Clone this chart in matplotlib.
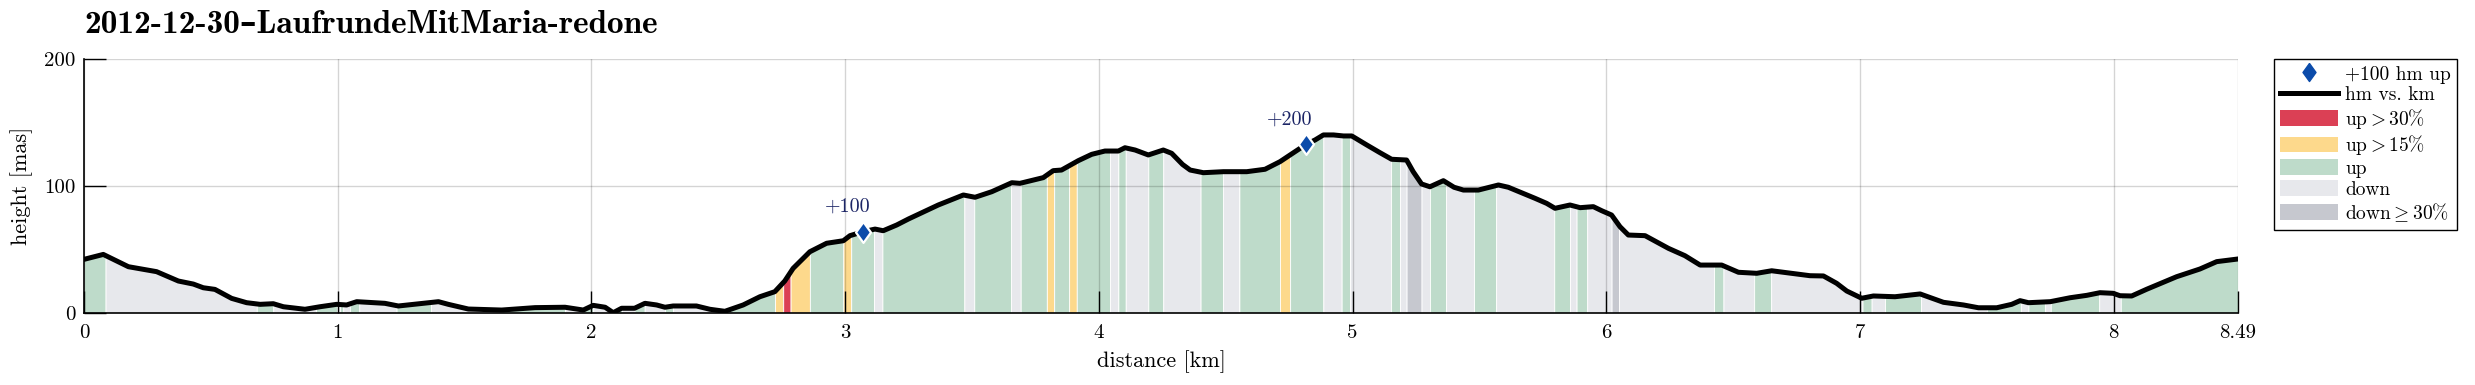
import numpy as np
import matplotlib
matplotlib.use("Agg")
import matplotlib.pyplot as plt
from matplotlib.lines import Line2D
from matplotlib.patches import Patch

# ---------------- data ----------------
dist_km = [0.0, 0.076, 0.175, 0.286, 0.372, 0.431, 0.47, 0.516, 0.582, 0.641, 0.694, 0.746,
           0.786, 0.871, 0.930, 0.996, 1.035, 1.075, 1.186, 1.239, 1.397, 1.436, 1.515, 1.646,
           1.778, 1.896, 1.968, 2.007, 2.054, 2.086, 2.119, 2.17, 2.211, 2.257, 2.29, 2.322,
           2.414, 2.467, 2.526, 2.598, 2.664, 2.723, 2.762, 2.795, 2.861, 2.927, 2.993, 3.019,
           3.072, 3.118, 3.15, 3.203, 3.25, 3.367, 3.466, 3.512, 3.578, 3.657, 3.689, 3.781,
           3.82, 3.853, 3.919, 3.972, 4.024, 4.077, 4.103, 4.143, 4.195, 4.254, 4.287, 4.33,
           4.36, 4.412, 4.491, 4.583, 4.655, 4.714, 4.767, 4.817, 4.852, 4.885, 4.925, 4.964,
           4.997, 5.056, 5.108, 5.154, 5.213, 5.239, 5.272, 5.305, 5.358, 5.40, 5.437, 5.496,
           5.575, 5.614, 5.719, 5.765, 5.798, 5.857, 5.897, 5.949, 5.982, 6.021, 6.054, 6.087,
           6.153, 6.245, 6.31, 6.37, 6.455, 6.521, 6.593, 6.652, 6.751, 6.803, 6.856, 6.908,
           6.948, 7.007, 7.053, 7.138, 7.237, 7.329, 7.408, 7.467, 7.539, 7.598, 7.631, 7.664,
           7.75, 7.828, 7.894, 7.946, 7.998, 8.025, 8.071, 8.13, 8.248, 8.34, 8.406, 8.49]
height_m = [42.1, 46.0, 36.3, 32.4, 25.0, 22.6, 19.7, 18.4, 11.3, 7.9, 6.6, 7.1,
            4.7, 2.7, 4.7, 6.6, 6.1, 8.7, 7.4, 5.3, 8.7, 6.6, 2.9, 2.1,
            4.0, 4.3, 2.1, 5.8, 4.3, 0.0, 3.5, 3.5, 7.4, 6.1, 4.3, 5.3,
            5.3, 2.7, 1.1, 6.1, 12.6, 16.6, 25.0, 35.0, 48.1, 54.8, 56.8, 60.8,
            64.0, 66.0, 64.7, 69.2, 74.0, 85.0, 92.9, 91.1, 95.5, 102.6, 102.1, 106.6,
            112.1, 112.6, 120.0, 125.0, 127.6, 127.6, 130.2, 128.4, 124.5, 128.4, 125.8, 117.0,
            112.6, 110.5, 111.3, 111.3, 113.2, 119.2, 126.3, 132.9, 136.3, 140.3, 140.3, 139.5,
            139.5, 132.4, 126.3, 121.1, 120.5, 111.3, 101.6, 99.4, 104.2, 99.0, 96.8, 96.8,
            100.8, 99.0, 90.3, 86.3, 82.4, 85.0, 82.9, 83.7, 80.5, 77.1, 67.9, 61.3,
            60.8, 50.8, 45.0, 37.6, 37.6, 31.9, 31.1, 33.1, 30.5, 29.2, 29.0, 23.2,
            17.1, 11.4, 13.2, 12.6, 14.8, 8.2, 6.1, 3.9, 3.9, 6.6, 9.5, 7.9,
            8.7, 11.8, 13.7, 15.8, 15.3, 13.4, 13.2, 18.5, 28.4, 34.5, 40.3, 42.4]

seg_start_km = [0, 0.085, 0.681, 0.746, 0.915, 0.997, 1.009, 1.022, 1.048, 1.085, 1.232, 1.368,
                1.646, 1.896, 1.968, 2.007, 2.086, 2.119, 2.17, 2.21, 2.29, 2.322, 2.526, 2.724,
                2.756, 2.785, 2.861, 2.993, 3.024, 3.114, 3.147, 3.47, 3.509, 3.654, 3.692, 3.795,
                3.824, 3.883, 3.913, 4.044, 4.077, 4.106, 4.195, 4.254, 4.401, 4.491, 4.554, 4.714,
                4.754, 4.885, 4.957, 4.99, 5.152, 5.187, 5.213, 5.272, 5.305, 5.368, 5.479, 5.566,
                5.795, 5.857, 5.883, 5.925, 6.021, 6.05, 6.425, 6.462, 6.583, 6.65, 7.01, 7.046,
                7.099, 7.241, 7.50, 7.634, 7.664, 7.73, 7.752, 7.943, 8.028]
seg_class = ['up', 'down', 'up', 'down', 'up', 'down', 'up', 'down', 'up', 'down', 'up', 'down',
             'up', 'down', 'up', 'down', 'up', 'down', 'up', 'down', 'up', 'down', 'up', 'u15',
             'u30', 'u15', 'up', 'u15', 'up', 'down', 'up', 'down', 'up', 'down', 'up', 'u15',
             'up', 'u15', 'up', 'down', 'up', 'down', 'up', 'down', 'up', 'down', 'up', 'u15',
             'up', 'down', 'up', 'down', 'up', 'down', 'd30', 'down', 'up', 'down', 'up', 'down',
             'up', 'down', 'up', 'down', 'd30', 'down', 'up', 'down', 'up', 'down', 'up', 'down',
             'up', 'down', 'up', 'down', 'up', 'down', 'up', 'down', 'up']

marker_km = [3.072, 4.817]
marker_h = [64.0, 132.9]
marker_labels = ['+100', '+200']

xtick_vals = [0, 1, 2, 3, 4, 5, 6, 7, 8, 8.49]
xtick_labels = ['0', '1', '2', '3', '4', '5', '6', '7', '8', '8.49']
ytick_vals = [0, 100, 200]
ytick_labels = ['0', '100', '200']

title = '2012-12-30\u2013LaufrundeMitMaria-redone'

class_colors = {'u30': '#DB4055', 'u15': '#FDD98C', 'up': '#BEDBCA',
                'down': '#E7E8EC', 'd30': '#C6C8CF'}
legend_labels = {'u30': r'up$>$30%', 'u15': r'up$>$15%', 'up': 'up',
                 'down': 'down', 'd30': r'down$\geq$30%'}

# ---------------- plot ----------------
plt.rcParams['mathtext.fontset'] = 'cm'
plt.rcParams['font.family'] = ['cmr10', 'DejaVu Serif']
plt.rcParams['axes.unicode_minus'] = False

W, H = 2475, 385
fig = plt.figure(figsize=(W / 100, H / 100), dpi=100)
ax = fig.add_axes([84 / W, 1 - 312.7 / H, (2238 - 84) / W, (312.7 - 59.3) / H])

d = np.array(dist_km)
h = np.array(height_m)
bounds = list(seg_start_km) + [dist_km[-1]]
for i, cls in enumerate(seg_class):
    a, b = bounds[i], bounds[i + 1]
    inner = d[(d > a) & (d < b)]
    xs = np.concatenate([[a], inner, [b]])
    ys = np.interp(xs, d, h)
    ax.fill_between(xs, 0, ys, facecolor=class_colors[cls], edgecolor='white',
                    linewidth=0.6, zorder=1)

ax.plot(d, h, color='black', lw=3.6, solid_joinstyle='round', zorder=3)

diamond = [(0, 1), (0.72, 0), (0, -1), (-0.72, 0), (0, 1)]
ax.plot(marker_km, marker_h, linestyle='none', marker=diamond, markersize=15,
        markerfacecolor='#0B4BAA', markeredgecolor='white', markeredgewidth=1.6, zorder=4)
for xk, yk, lab in zip(marker_km, marker_h, marker_labels):
    ax.annotate(lab, (xk, yk), xytext=(-11.5, 18), textcoords='offset points',
                ha='center', va='center', fontsize=14.5, color='#1c2566', zorder=5)

ax.set_xlim(0, 8.49)
ax.set_ylim(0, 200)
ax.set_xticks(xtick_vals)
ax.set_xticklabels(xtick_labels)
ax.set_yticks(ytick_vals)
ax.set_yticklabels(ytick_labels)
ax.tick_params(direction='in', length=16, width=1, labelsize=15, color='black')
ax.tick_params(axis='x', pad=8)
ax.tick_params(axis='y', pad=6)
ax.grid(True, color='black', alpha=0.17, lw=1)
ax.set_axisbelow(False)
for s in ['top', 'right']:
    ax.spines[s].set_visible(False)
for s in ['left', 'bottom']:
    ax.spines[s].set_linewidth(1.2)
    ax.spines[s].set_zorder(6)

ax.set_xlabel('distance [km]', fontsize=16, labelpad=6)
ax.set_ylabel('height [mas]', fontsize=16, labelpad=8)

fig.text(84 / W, 1 - 33 / H, title, fontsize=24, family=['cmb10', 'DejaVu Serif'],
         fontweight='bold', ha='left', va='baseline')

handles = [Line2D([], [], linestyle='none', marker=diamond, markersize=13,
                  markerfacecolor='#0B4BAA', markeredgecolor='#0B4BAA'),
           Line2D([], [], color='black', lw=3.6)]
labels = ['+100 hm up', 'hm vs. km']
for cls in ['u30', 'u15', 'up', 'down', 'd30']:
    handles.append(Patch(facecolor=class_colors[cls], edgecolor='none'))
    labels.append(legend_labels[cls])
leg = ax.legend(handles, labels, loc='upper left', bbox_to_anchor=((2274 - 84) / 2154, 1.0),
                borderaxespad=0, fontsize=14, frameon=True, fancybox=False, framealpha=1,
                edgecolor='black', handlelength=3.0, handleheight=0.85, handletextpad=0.35,
                labelspacing=0.12, borderpad=0.3)
leg.get_frame().set_linewidth(1)

fig.savefig('out.png', dpi=100)
